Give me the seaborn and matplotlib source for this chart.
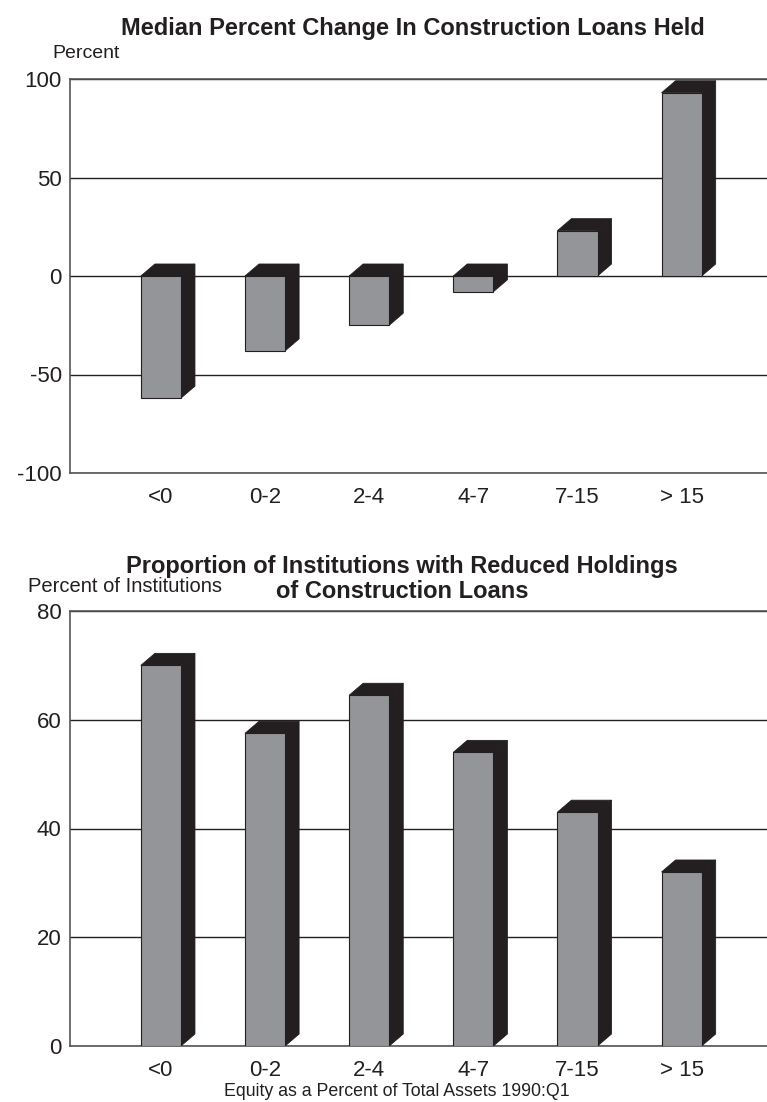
import matplotlib
matplotlib.use("Agg")
import matplotlib.pyplot as plt
from matplotlib.patches import Polygon
import seaborn as sns
import pandas as pd

# Equity ratio groups shared by both panels
categories = ["<0", "0-2", "2-4", "4-7", "7-15", "> 15"]

# Median percent change in construction loans held
median_change = [-62, -38, -25, -8, 23, 93]

# Share of institutions that reduced construction loan holdings
share_reduced = [70, 57.5, 64.5, 54, 43, 32]

FRONT = "#939598"
DARK = "#231f20"
FONT = ["Liberation Sans", "DejaVu Sans"]

sns.set_theme(style="white")
plt.rcParams["font.family"] = FONT
plt.rcParams["axes.unicode_minus"] = False

fig = plt.figure(figsize=(7.67, 11.02), dpi=100)
W, H = 767, 1102


def axes_px(left, top, right, bottom):
    return fig.add_axes([left / W, 1 - bottom / H, (right - left) / W, (bottom - top) / H])


def draw_panel(ax, values, ylim, yticks, depth_px=(14, 12)):
    df = pd.DataFrame({"group": categories, "value": values})
    sns.barplot(data=df, x="group", y="value", ax=ax, color=FRONT, width=0.385,
                saturation=1, edgecolor=DARK, linewidth=0.8, zorder=3)
    ax.set_xlim(-0.873, 5.82)
    ax.set_ylim(*ylim)
    fig.canvas.draw()
    bbox = ax.get_window_extent()
    x0, x1 = ax.get_xlim()
    dx = depth_px[0] * (x1 - x0) / bbox.width
    dy = depth_px[1] * (ylim[1] - ylim[0]) / bbox.height
    for bar in ax.patches[:len(values)]:
        left = bar.get_x()
        right = left + bar.get_width()
        y_a = bar.get_y()
        y_b = y_a + bar.get_height()
        top, bot = max(y_a, y_b), min(y_a, y_b)
        top_face = [(left, top), (left + dx, top + dy), (right + dx, top + dy), (right, top)]
        side_face = [(right, bot), (right, top), (right + dx, top + dy), (right + dx, bot + dy)]
        for pts in (top_face, side_face):
            ax.add_patch(Polygon(pts, closed=True, facecolor=DARK, edgecolor=DARK,
                                 linewidth=0.6, zorder=2.9))
    ax.set_yticks(yticks)
    ax.yaxis.grid(True, color="#231f20", linewidth=1.0, zorder=0)
    ax.set_axisbelow(True)
    ax.tick_params(axis="both", length=0, labelsize=16, colors="#231f20")
    ax.tick_params(axis="y", pad=6)
    ax.tick_params(axis="x", pad=10)
    ax.set_xlabel("")
    ax.set_ylabel("")
    for side in ("left", "top", "bottom"):
        ax.spines[side].set_visible(True)
        ax.spines[side].set_color("#555555")
        ax.spines[side].set_linewidth(1.2)
    ax.spines["right"].set_visible(False)


ax1 = axes_px(70, 79, 767, 473)
draw_panel(ax1, median_change, (-100, 100), [-100, -50, 0, 50, 100])

ax2 = axes_px(70, 611, 767, 1046)
draw_panel(ax2, share_reduced, (0, 80), [0, 20, 40, 60, 80])

title_style = dict(ha="center", va="center", fontsize=17, fontweight="bold", color="#231f20")
label_style = dict(va="center", fontsize=14, color="#231f20")

fig.text(413 / W, 1 - 29 / H, "Median Percent Change In Construction Loans Held", **title_style)
fig.text(52 / W, 1 - 53 / H, "Percent", ha="left", **label_style)

fig.text(402 / W, 1 - 566 / H, "Proportion of Institutions with Reduced Holdings", **title_style)
fig.text(402 / W, 1 - 592 / H, "of Construction Loans", **title_style)
fig.text(28 / W, 1 - 586 / H, "Percent of Institutions", ha="left",
         **dict(label_style, fontsize=14.5))

fig.text(397 / W, 1 - 1092 / H, "Equity as a Percent of Total Assets 1990:Q1",
         ha="center", **dict(label_style, fontsize=12.8))

fig.savefig("out.png", dpi=100)
